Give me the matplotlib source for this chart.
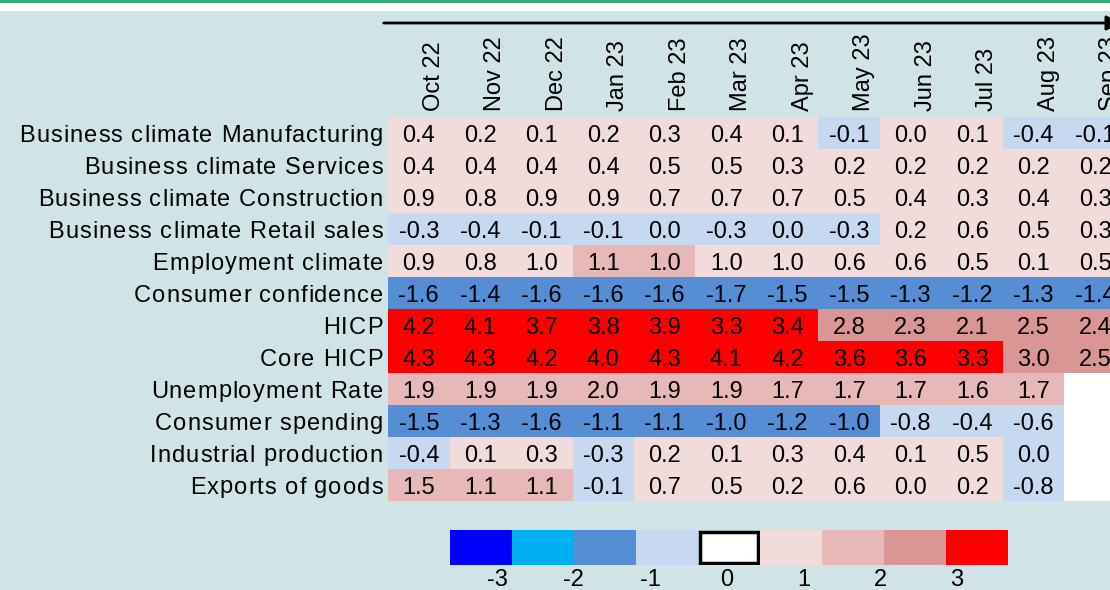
import numpy as np
import matplotlib
matplotlib.use("Agg")
import matplotlib.pyplot as plt
from matplotlib.colors import ListedColormap, BoundaryNorm
from matplotlib.patches import Rectangle, FancyArrowPatch
from matplotlib.font_manager import FontProperties, findfont
from matplotlib.ft2font import FT2Font
import matplotlib.transforms as mtransforms

plt.rcParams['font.family'] = ['Liberation Sans', 'DejaVu Sans']

# ===== DATA =====
months = ["Oct 22", "Nov 22", "Dec 22", "Jan 23", "Feb 23", "Mar 23",
          "Apr 23", "May 23", "Jun 23", "Jul 23", "Aug 23", "Sep 23"]

indicators = ["Business climate Manufacturing", "Business climate Services",
              "Business climate Construction", "Business climate Retail sales",
              "Employment climate", "Consumer confidence", "HICP", "Core HICP",
              "Unemployment Rate", "Consumer spending", "Industrial production",
              "Exports of goods"]

nan = np.nan
manufacturing = [0.4, 0.2, 0.1, 0.2, 0.3, 0.4, 0.1, -0.1, 0.02, 0.1, -0.4, -0.1]
services = [0.4, 0.4, 0.4, 0.4, 0.5, 0.5, 0.3, 0.2, 0.2, 0.2, 0.2, 0.2]
construction = [0.9, 0.8, 0.9, 0.9, 0.7, 0.7, 0.7, 0.5, 0.4, 0.3, 0.4, 0.3]
retail = [-0.3, -0.4, -0.1, -0.1, -0.02, -0.3, -0.02, -0.3, 0.2, 0.6, 0.5, 0.3]
employment = [0.9, 0.8, 0.98, 1.1, 1.02, 0.98, 0.96, 0.6, 0.6, 0.5, 0.1, 0.5]
confidence = [-1.6, -1.4, -1.6, -1.6, -1.6, -1.7, -1.5, -1.5, -1.3, -1.2, -1.3, -1.4]
hicp = [4.2, 4.1, 3.7, 3.8, 3.9, 3.3, 3.4, 2.8, 2.3, 2.1, 2.5, 2.4]
core_hicp = [4.3, 4.3, 4.2, 4.0, 4.3, 4.1, 4.2, 3.6, 3.6, 3.3, 2.98, 2.5]
unemployment = [1.9, 1.9, 1.9, 1.98, 1.9, 1.9, 1.7, 1.7, 1.7, 1.6, 1.7, nan]
spending = [-1.5, -1.3, -1.6, -1.1, -1.1, -1.02, -1.2, -1.02, -0.8, -0.4, -0.6, nan]
industrial = [-0.4, 0.1, 0.3, -0.3, 0.2, 0.1, 0.3, 0.4, 0.1, 0.5, -0.02, nan]
exports = [1.5, 1.1, 1.1, -0.1, 0.7, 0.5, 0.2, 0.6, 0.02, 0.2, -0.8, nan]

legend_labels = ["-3", "-2", "-1", "0", "1", "2", "3"]

values = np.array([manufacturing, services, construction, retail, employment,
                   confidence, hicp, core_hicp, unemployment, spending,
                   industrial, exports])

# ===== COLOURS =====
bg = "#d0e3e7"
cell_colors = ["#0000ff", "#00b0f0", "#558ed5", "#c6d9f1",
               "#f2dcdb", "#e6b9b8", "#d99694", "#ff0000"]
legend_colors = ["#0000ff", "#00b0f0", "#558ed5", "#c6d9f1", "#ffffff",
                 "#f2dcdb", "#e6b9b8", "#d99694", "#ff0000"]
cmap = ListedColormap(cell_colors)
cmap.set_bad("white")
norm = BoundaryNorm([-10, -3, -2, -1, 0, 1, 2, 3, 10], cmap.N)

W, H = 1110, 590
fig = plt.figure(figsize=(W / 100, H / 100), dpi=100, facecolor=bg)

# top band: green line and white strip
fig.patches.append(Rectangle((0, 1 - 11 / H), 1, 11 / H, transform=fig.transFigure,
                             facecolor="white", edgecolor="none"))
fig.patches.append(Rectangle((0, 1 - 3 / H), 1, 3 / H, transform=fig.transFigure,
                             facecolor="#3aab7b", edgecolor="none"))

# heatmap
col_w, row_h = 61.5, 32.0
x0, y0 = 388, 117
n_rows, n_cols = values.shape
ax = fig.add_axes([x0 / W, 1 - (y0 + n_rows * row_h) / H,
                   n_cols * col_w / W, n_rows * row_h / H])
ax.set_facecolor(bg)
ax.pcolormesh(np.arange(n_cols + 1), np.arange(n_rows + 1),
              np.ma.masked_invalid(values), cmap=cmap, norm=norm)
ax.set_xlim(0, n_cols)
ax.set_ylim(n_rows, 0)
for s in ax.spines.values():
    s.set_visible(False)

base_off = 8.5 / row_h  # baseline below row centre
for i in range(n_rows):
    for j in range(n_cols):
        v = values[i, j]
        if np.isnan(v):
            continue
        txt = f"{v:.1f}"
        if txt == "-0.0":
            txt = "0.0"
        ax.text(j + 0.5, i + 0.5 + base_off, txt, ha="center", va="baseline",
                fontsize=17, color="black", clip_on=True)

# row labels, slightly spread letters, right aligned at x=383 px
ax.set_yticks([])
lab_size = 17
track = 0.85
ft = FT2Font(findfont(FontProperties(family="Liberation Sans")), hinting_factor=1)
ft.set_size(lab_size, 100)
def char_adv(c):
    return ft.load_char(ord(c)).linearHoriAdvance / 65536
lab_trans = mtransforms.blended_transform_factory(mtransforms.IdentityTransform(),
                                                 ax.transData)
for i, name in enumerate(indicators):
    adv = [char_adv(c) for c in name]
    total = sum(adv) + track * (len(name) - 1)
    xp = 383 - total
    for c, a in zip(name, adv):
        if c != " ":
            ax.text(xp, i + 0.5 + base_off, c, transform=lab_trans,
                    ha="left", va="baseline", fontsize=lab_size, clip_on=False)
        xp += a + track

ax.xaxis.tick_top()
ax.set_xticks(np.arange(n_cols) + 0.5)
ax.set_xticklabels(months, rotation=90, fontsize=17)
ax.tick_params(axis="x", length=0, pad=4.5)
shift = mtransforms.ScaledTranslation(0.15, 0, fig.dpi_scale_trans)
for lab in ax.get_xticklabels():
    lab.set_transform(lab.get_transform() + shift)

# arrow above the month labels
fig.add_artist(FancyArrowPatch((381, H - 23), (1124, H - 23), transform=None,
                               arrowstyle="-|>", mutation_scale=22,
                               linewidth=2, color="black"))

# legend strip
lx0, ly0, lw, lh = 450, 530, 558, 35
lax = fig.add_axes([lx0 / W, 1 - (ly0 + lh) / H, lw / W, lh / H])
lax.set_xlim(0, len(legend_colors))
lax.set_ylim(0, 1)
lax.axis("off")
for k, c in enumerate(legend_colors):
    if c == "#ffffff":
        lax.add_patch(Rectangle((k + 0.04, 0.05), 0.92, 0.9, facecolor=c,
                                edgecolor="black", linewidth=2.5))
    else:
        lax.add_patch(Rectangle((k, 0), 1, 1, facecolor=c, edgecolor="none"))

label_x = np.linspace(497, 957, len(legend_labels))
for lx, lab in zip(label_x, legend_labels):
    fig.text(lx / W, 1 - 580 / H, lab, ha="center", va="center", fontsize=17)

fig.savefig("out.png", dpi=100, facecolor=bg)
